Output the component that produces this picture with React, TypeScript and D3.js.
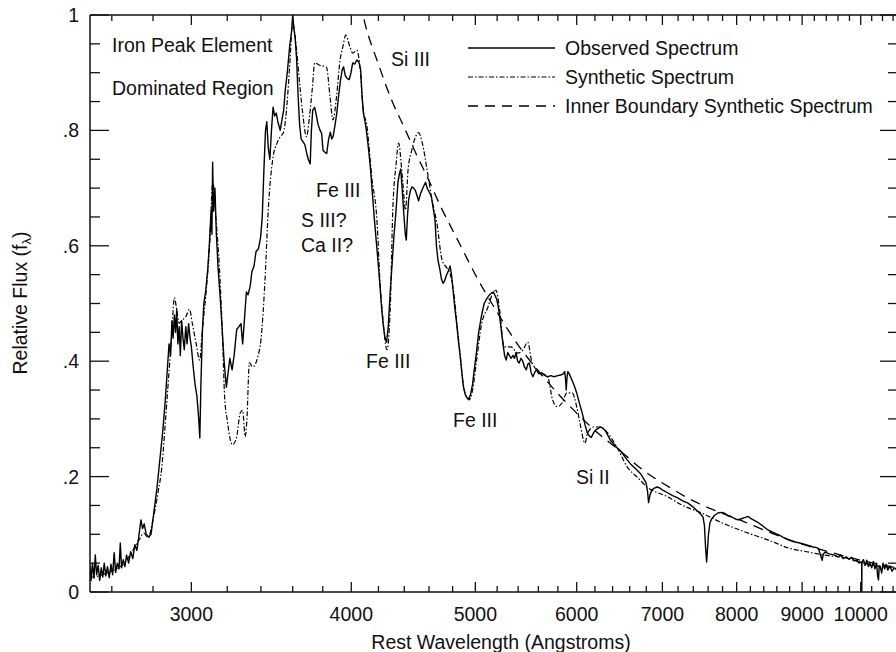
import React from "react";
import * as d3 from "d3";

const observed: [number, number][] = [
[2500,0.045],[2505,0.02],[2511,0.05],[2518,0.024],[2524,0.064],[2530,0.03],[2537,0.046],[2544,0.02],[2551,0.042],[2558,0.026],[2565,0.05],[2572,0.028],[2580,0.044],[2588,0.025],[2596,0.048],[2604,0.03],[2611,0.068],[2618,0.034],[2626,0.05],[2634,0.04],[2640,0.085],[2646,0.042],[2654,0.056],[2662,0.044],[2670,0.064],[2680,0.05],[2690,0.07],[2700,0.058],[2710,0.082],[2720,0.072],[2730,0.098],[2740,0.125],[2748,0.11],[2756,0.118],[2766,0.1],[2778,0.095],[2790,0.1],[2805,0.14],[2820,0.18],[2835,0.23],[2850,0.28],[2862,0.33],[2872,0.38],[2882,0.43],[2890,0.41],[2897,0.47],[2903,0.44],[2910,0.48],[2916,0.45],[2922,0.49],[2928,0.43],[2935,0.46],[2941,0.41],[2948,0.47],[2955,0.44],[2962,0.42],[2970,0.46],[2977,0.43],[2985,0.465],[2993,0.44],[3000,0.425],[3010,0.39],[3020,0.36],[3030,0.34],[3040,0.3],[3046,0.267],[3052,0.36],[3060,0.45],[3068,0.5],[3078,0.52],[3090,0.56],[3100,0.61],[3108,0.66],[3113,0.62],[3117,0.745],[3122,0.66],[3130,0.7],[3138,0.62],[3148,0.56],[3160,0.51],[3170,0.46],[3182,0.4],[3195,0.355],[3205,0.38],[3215,0.405],[3228,0.385],[3240,0.41],[3255,0.455],[3268,0.46],[3280,0.465],[3290,0.43],[3300,0.47],[3312,0.52],[3322,0.515],[3335,0.53],[3345,0.555],[3358,0.565],[3370,0.59],[3385,0.595],[3398,0.615],[3408,0.65],[3418,0.73],[3428,0.8],[3436,0.815],[3445,0.77],[3455,0.75],[3465,0.8],[3475,0.84],[3485,0.825],[3495,0.83],[3505,0.815],[3520,0.8],[3532,0.82],[3542,0.835],[3552,0.87],[3565,0.9],[3580,0.945],[3592,0.97],[3600,1.0],[3608,0.975],[3616,0.96],[3625,0.925],[3635,0.86],[3645,0.81],[3655,0.785],[3668,0.78],[3680,0.775],[3692,0.76],[3702,0.75],[3715,0.742],[3723,0.8],[3732,0.835],[3745,0.84],[3757,0.825],[3768,0.81],[3782,0.8],[3792,0.795],[3802,0.765],[3815,0.762],[3827,0.76],[3840,0.785],[3852,0.797],[3862,0.785],[3872,0.79],[3885,0.81],[3897,0.83],[3910,0.86],[3922,0.885],[3935,0.905],[3945,0.91],[3957,0.895],[3970,0.89],[3985,0.888],[3998,0.9],[4010,0.917],[4025,0.915],[4040,0.922],[4055,0.918],[4068,0.905],[4078,0.86],[4088,0.83],[4100,0.815],[4110,0.8],[4125,0.77],[4140,0.735],[4155,0.69],[4170,0.645],[4185,0.605],[4200,0.565],[4212,0.53],[4225,0.49],[4238,0.46],[4250,0.44],[4262,0.433],[4275,0.46],[4290,0.52],[4305,0.57],[4320,0.62],[4335,0.66],[4350,0.71],[4362,0.725],[4372,0.733],[4383,0.7],[4395,0.66],[4408,0.62],[4416,0.61],[4425,0.65],[4435,0.68],[4448,0.695],[4460,0.702],[4475,0.7],[4490,0.695],[4505,0.685],[4515,0.678],[4530,0.69],[4545,0.698],[4560,0.705],[4572,0.71],[4585,0.7],[4597,0.695],[4610,0.69],[4620,0.685],[4635,0.665],[4650,0.645],[4662,0.6],[4675,0.575],[4690,0.56],[4705,0.542],[4718,0.535],[4732,0.54],[4745,0.548],[4760,0.555],[4778,0.565],[4790,0.55],[4805,0.52],[4820,0.49],[4835,0.465],[4850,0.435],[4865,0.41],[4880,0.38],[4895,0.355],[4910,0.342],[4925,0.337],[4945,0.335],[4960,0.345],[4975,0.36],[4990,0.385],[5010,0.415],[5030,0.45],[5055,0.478],[5080,0.5],[5100,0.507],[5120,0.513],[5145,0.518],[5165,0.52],[5180,0.514],[5195,0.508],[5210,0.495],[5222,0.48],[5238,0.455],[5255,0.43],[5270,0.41],[5285,0.402],[5300,0.415],[5315,0.41],[5332,0.405],[5350,0.41],[5365,0.405],[5380,0.415],[5395,0.4],[5410,0.397],[5428,0.405],[5445,0.4],[5462,0.39],[5480,0.385],[5495,0.395],[5510,0.397],[5528,0.38],[5545,0.373],[5562,0.38],[5580,0.385],[5605,0.378],[5630,0.38],[5660,0.376],[5695,0.373],[5730,0.375],[5760,0.373],[5800,0.375],[5830,0.376],[5855,0.378],[5872,0.382],[5880,0.37],[5888,0.35],[5895,0.37],[5905,0.382],[5920,0.378],[5950,0.367],[5975,0.357],[6000,0.345],[6030,0.327],[6060,0.31],[6090,0.29],[6115,0.276],[6140,0.27],[6160,0.268],[6185,0.276],[6210,0.281],[6240,0.284],[6265,0.286],[6295,0.283],[6320,0.279],[6350,0.27],[6380,0.262],[6415,0.256],[6450,0.25],[6490,0.245],[6530,0.237],[6570,0.229],[6610,0.222],[6645,0.217],[6690,0.211],[6730,0.205],[6765,0.197],[6795,0.19],[6815,0.175],[6828,0.155],[6845,0.168],[6870,0.177],[6900,0.18],[6935,0.182],[6970,0.18],[7010,0.176],[7065,0.172],[7130,0.167],[7195,0.163],[7260,0.158],[7330,0.154],[7390,0.148],[7440,0.142],[7490,0.136],[7530,0.13],[7550,0.115],[7565,0.078],[7580,0.052],[7592,0.075],[7605,0.1],[7625,0.12],[7650,0.127],[7690,0.133],[7735,0.137],[7790,0.138],[7835,0.136],[7880,0.132],[7930,0.13],[7975,0.127],[8020,0.125],[8070,0.127],[8115,0.129],[8170,0.131],[8210,0.127],[8245,0.125],[8290,0.122],[8320,0.12],[8400,0.113],[8470,0.107],[8550,0.103],[8630,0.099],[8710,0.094],[8790,0.09],[8870,0.087],[8960,0.085],[9060,0.082],[9130,0.08],[9180,0.078],[9240,0.077],[9270,0.075],[9300,0.065],[9330,0.055],[9350,0.066],[9380,0.069],[9450,0.066],[9540,0.064],[9600,0.061],[9640,0.064],[9690,0.058],[9740,0.061],[9790,0.057],[9840,0.06],[9880,0.054],[9930,0.055],[9970,0.05],[10010,0.052],[10018,0.05],[10020,0.0],[10022,0.052],[10050,0.056],[10080,0.046],[10110,0.055],[10140,0.044],[10170,0.05],[10200,0.042],[10230,0.053],[10260,0.04],[10290,0.05],[10310,0.028],[10325,0.021],[10340,0.045],[10360,0.043],[10385,0.033],[10410,0.05],[10440,0.04],[10470,0.048],[10500,0.038],[10540,0.045],[10580,0.036],[10620,0.042],[10675,0.038]
];

const synthetic: [number, number][] = [
[2500,0.025],[2540,0.028],[2580,0.033],[2620,0.04],[2660,0.05],[2700,0.072],[2730,0.09],[2755,0.102],[2775,0.094],[2800,0.125],[2825,0.172],[2845,0.217],[2860,0.281],[2875,0.35],[2895,0.442],[2910,0.51],[2920,0.494],[2935,0.466],[2950,0.471],[2970,0.477],[2990,0.49],[3005,0.466],[3025,0.432],[3045,0.402],[3060,0.454],[3080,0.518],[3100,0.6],[3118,0.71],[3135,0.65],[3155,0.563],[3172,0.449],[3185,0.338],[3200,0.298],[3230,0.255],[3255,0.269],[3275,0.31],[3290,0.315],[3305,0.269],[3315,0.298],[3330,0.397],[3350,0.39],[3380,0.407],[3400,0.437],[3425,0.541],[3445,0.662],[3475,0.754],[3500,0.778],[3520,0.789],[3540,0.796],[3560,0.835],[3580,0.91],[3600,0.986],[3625,0.939],[3645,0.882],[3665,0.83],[3690,0.789],[3710,0.823],[3730,0.875],[3745,0.917],[3780,0.913],[3825,0.91],[3850,0.858],[3870,0.818],[3895,0.858],[3920,0.922],[3940,0.945],[3960,0.965],[3990,0.945],[4010,0.934],[4040,0.939],[4065,0.905],[4085,0.84],[4115,0.806],[4150,0.719],[4190,0.64],[4210,0.546],[4235,0.471],[4265,0.42],[4290,0.489],[4310,0.662],[4335,0.74],[4355,0.778],[4385,0.719],[4410,0.662],[4430,0.731],[4460,0.766],[4490,0.789],[4515,0.796],[4545,0.778],[4585,0.731],[4620,0.685],[4665,0.64],[4710,0.575],[4745,0.563],[4780,0.55],[4810,0.518],[4840,0.459],[4870,0.402],[4895,0.355],[4945,0.333],[4975,0.35],[5010,0.4],[5055,0.463],[5115,0.494],[5160,0.518],[5190,0.523],[5220,0.494],[5265,0.425],[5330,0.425],[5395,0.414],[5445,0.419],[5495,0.433],[5530,0.402],[5560,0.39],[5630,0.38],[5695,0.373],[5745,0.333],[5795,0.321],[5845,0.328],[5895,0.345],[5950,0.345],[6000,0.321],[6035,0.293],[6090,0.258],[6120,0.276],[6190,0.286],[6265,0.286],[6340,0.276],[6450,0.251],[6570,0.217],[6690,0.199],[6810,0.182],[7065,0.165],[7245,0.151],[7510,0.137],[7790,0.12],[8170,0.102],[8470,0.09],[8790,0.076],[9120,0.069],[9360,0.064],[9730,0.059],[10050,0.05],[10675,0.041]
];

const innerBoundary: [number, number][] = [
[4040,1.05],[4100,0.985],[4200,0.915],[4300,0.853],[4400,0.805],[4500,0.757],[4600,0.713],[4700,0.667],[4800,0.627],[4900,0.588],[5000,0.55],[5100,0.516],[5200,0.485],[5300,0.455],[5400,0.428],[5600,0.383],[5800,0.344],[6000,0.31],[6200,0.28],[6500,0.243],[6800,0.207],[7000,0.189],[7400,0.158],[7700,0.141],[8000,0.127],[8500,0.103],[9000,0.083],[9500,0.068],[10000,0.055],[10675,0.042]
];

const xDomain = [2500, 10675];
const xMajorTicks = [3000, 4000, 5000, 6000, 7000, 8000, 9000, 10000];
const xMinorTicks = d3.range(2600, 10601, 200);
const yTickValues = d3.range(0, 21).map((i) => i / 20);
const yTickLabels = ["0", ".2", ".4", ".6", ".8", "1"];

const annotations: { text: string; x: number; y: number }[] = [
  { text: "Iron Peak Element", x: 112, y: 52 },
  { text: "Dominated Region", x: 112, y: 95 },
  { text: "Si III", x: 391, y: 66 },
  { text: "Fe III", x: 316, y: 197 },
  { text: "S III?", x: 301, y: 227 },
  { text: "Ca II?", x: 301, y: 252 },
  { text: "Fe III", x: 366, y: 368 },
  { text: "Fe III", x: 453, y: 427 },
  { text: "Si II", x: 576, y: 484 },
];

const legendItems = [
  { label: "Observed Spectrum", dash: "none", width: 1.3 },
  { label: "Synthetic Spectrum", dash: "5,2,1.5,2", width: 1.2 },
  { label: "Inner Boundary Synthetic Spectrum", dash: "10,7", width: 1.3 },
];

export default function App() {
  const W = 896, H = 652;
  const left = 90, right = 897, top = 15, bottom = 592;
  const x = d3.scaleLog().domain(xDomain).range([left, right]);
  const y = d3.scaleLinear().domain([0, 1]).range([bottom, top]);
  const line = d3.line<[number, number]>().x((d) => x(d[0])).y((d) => y(d[1]));
  const smooth = d3.line<[number, number]>().x((d) => x(d[0])).y((d) => y(d[1])).curve(d3.curveMonotoneX);
  const font = "'Liberation Sans', Arial, Helvetica, sans-serif";
  const fs = 19.5;
  return (
    <svg width={W} height={H} style={{ position: "absolute", left: 0, top: 0, background: "#fff" }} fontFamily={font}>
      <defs>
        <clipPath id="plot">
          <rect x={left} y={top} width={right - left} height={bottom - top} />
        </clipPath>
      </defs>
      <rect x={0} y={0} width={W} height={H} fill="#fff" />
      <g clipPath="url(#plot)" fill="none" stroke="#000">
        <path d={smooth(innerBoundary) || ""} strokeWidth={1.3} strokeDasharray="10,7" />
        <path d={smooth(synthetic) || ""} strokeWidth={1.2} strokeDasharray="5,2,1.5,2" />
        <path d={line(observed) || ""} strokeWidth={1.4} strokeLinejoin="round" />
      </g>
      <g stroke="#111" strokeWidth={1.5} fill="none">
        <line x1={left} x2={right} y1={bottom} y2={bottom} />
        <line x1={left} x2={right} y1={top} y2={top} />
        <line x1={left} x2={left} y1={top} y2={bottom} />
        <line x1={right} x2={right} y1={top} y2={bottom} />
      </g>
      <g stroke="#111" strokeWidth={1.3}>
        {xMinorTicks.map((t) => {
          const major = xMajorTicks.includes(t);
          const len = major ? 10 : 6;
          return (
            <g key={"xt" + t}>
              <line x1={x(t)} x2={x(t)} y1={bottom} y2={bottom - len} />
              <line x1={x(t)} x2={x(t)} y1={top} y2={top + len} />
            </g>
          );
        })}
        {yTickValues.map((v, i) => {
          const major = i % 4 === 0;
          return (
            <g key={"yt" + i}>
              <line x1={left} x2={left + (major ? 19 : 10)} y1={y(v)} y2={y(v)} />
              <line x1={right} x2={right - (major ? 17 : 9)} y1={y(v)} y2={y(v)} />
            </g>
          );
        })}
      </g>
      <g fontSize={fs} fill="#111">
        {xMajorTicks.map((t) => (
          <text key={"xl" + t} x={x(t)} y={621} textAnchor="middle">
            {t}
          </text>
        ))}
        {yTickLabels.map((l, i) => (
          <text key={"yl" + i} x={79} y={y(i * 0.2) + 7} textAnchor="end">
            {l}
          </text>
        ))}
        <text x={501} y={649} textAnchor="middle">Rest Wavelength (Angstroms)</text>
        <text transform="translate(27,303) rotate(-90)" textAnchor="middle">
          Relative Flux (f<tspan fontSize={13} dy={4}>λ</tspan><tspan dy={-4}>)</tspan>
        </text>
        {annotations.map((a, i) => (
          <text key={"an" + i} x={a.x} y={a.y}>
            {a.text}
          </text>
        ))}
        {legendItems.map((it, i) => (
          <g key={"lg" + i}>
            <line x1={468} x2={555} y1={48 + i * 29} y2={48 + i * 29} stroke="#000" strokeWidth={it.width} strokeDasharray={it.dash} />
            <text x={565} y={55 + i * 29}>{it.label}</text>
          </g>
        ))}
      </g>
    </svg>
  );
}
